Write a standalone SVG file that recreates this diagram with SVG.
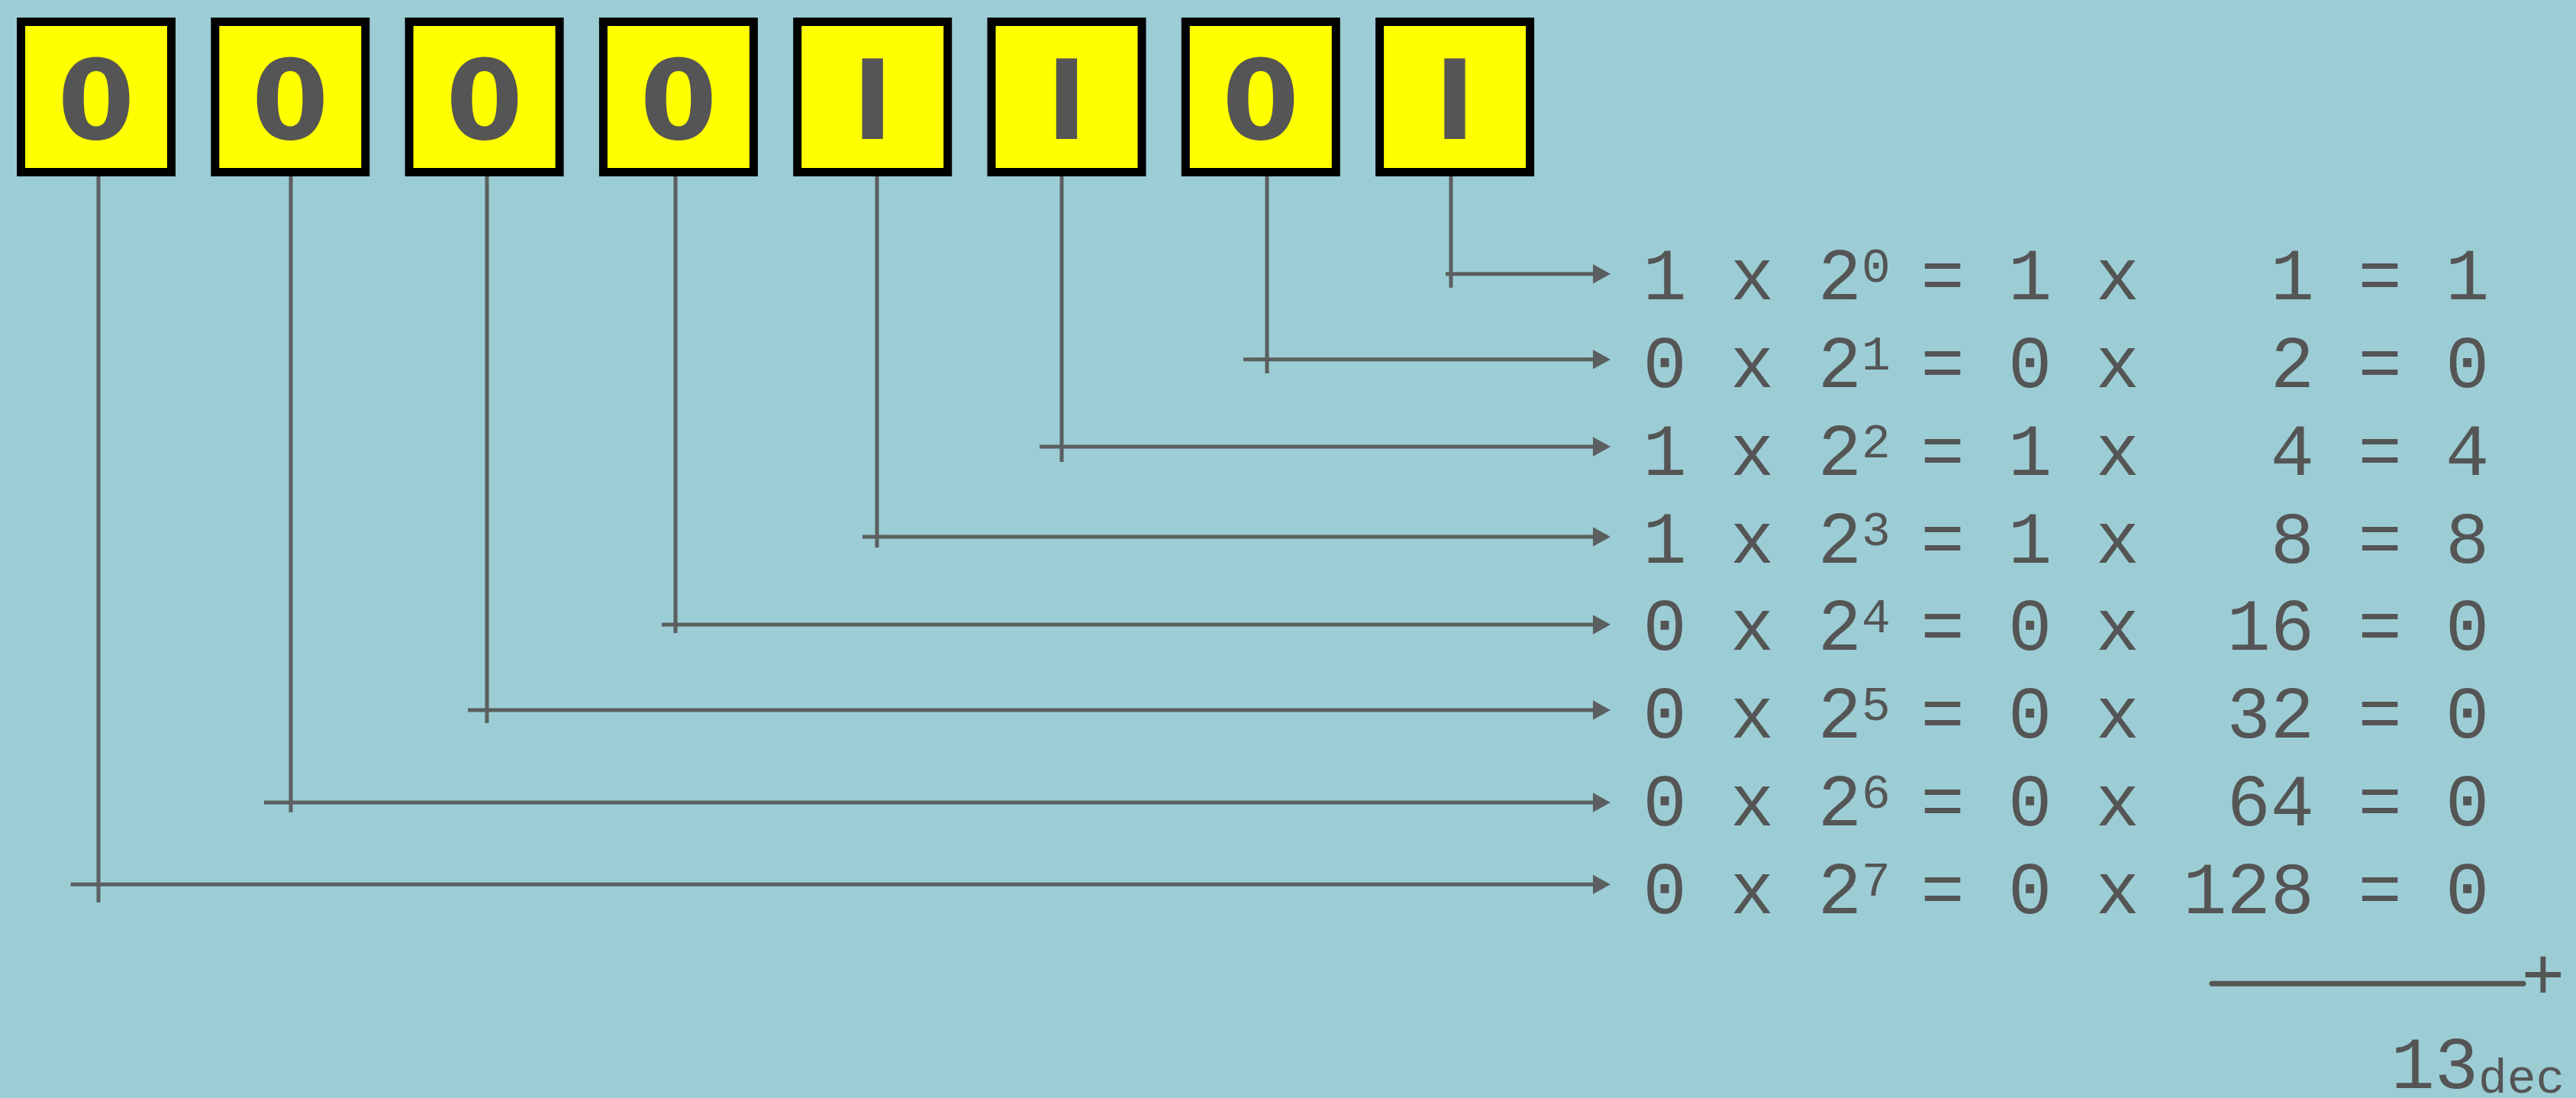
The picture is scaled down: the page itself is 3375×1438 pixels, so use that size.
<svg xmlns="http://www.w3.org/2000/svg" width="3375" height="1438" viewBox="0 0 3375 1438">
<defs>
<style>
.box rect{fill:#ffff00;stroke:#000;stroke-width:11}
.box text{font-family:"DejaVu Sans",sans-serif;font-weight:bold;font-size:145px;fill:#555555;text-anchor:middle}
.conn path{fill:none;stroke:#5b5f5f;stroke-width:5}
.eq{font-family:"Liberation Mono","Courier New",monospace;font-size:95.5px;fill:#555555;white-space:pre}
.sup{font-size:63px}
</style>
<marker id="ah" markerUnits="userSpaceOnUse" markerWidth="24" markerHeight="26" refX="1" refY="12.7" orient="auto">
<path d="M0,0 L23,12.7 L0,25.4 z" fill="#5b5f5f"/>
</marker>
</defs>
<rect x="0" y="0" width="3375" height="1438" fill="#9ccdd5"/>
<g id="connectors" class="conn">
<path d="M1901,228 V376.7 M1894,358.7 H2088" marker-end="url(#ah)"/>
<path d="M1660,228 V489 M1629,470.7 H2088" marker-end="url(#ah)"/>
<path d="M1391,228 V605 M1362,585 H2088" marker-end="url(#ah)"/>
<path d="M1149,228 V717 M1130,703 H2088" marker-end="url(#ah)"/>
<path d="M885,228 V829 M867,818 H2088" marker-end="url(#ah)"/>
<path d="M638,228 V947 M613,930 H2088" marker-end="url(#ah)"/>
<path d="M381,228 V1063.7 M346,1051 H2088" marker-end="url(#ah)"/>
<path d="M129,228 V1181.7 M92.6,1158.3 H2088" marker-end="url(#ah)"/>
</g>
<g id="bit7" class="box"><rect x="27.5" y="28.5" width="197" height="197"/><text x="126" y="182">0</text></g>
<g id="bit6" class="box"><rect x="281.8" y="28.5" width="197" height="197"/><text x="380.3" y="182">0</text></g>
<g id="bit5" class="box"><rect x="536.1" y="28.5" width="197" height="197"/><text x="634.6" y="182">0</text></g>
<g id="bit4" class="box"><rect x="790.4" y="28.5" width="197" height="197"/><text x="888.9" y="182">0</text></g>
<g id="bit3" class="box"><rect x="1044.7" y="28.5" width="197" height="197"/><text x="1143.2" y="182">I</text></g>
<g id="bit2" class="box"><rect x="1299" y="28.5" width="197" height="197"/><text x="1397.5" y="182">I</text></g>
<g id="bit1" class="box"><rect x="1553.3" y="28.5" width="197" height="197"/><text x="1651.8" y="182">0</text></g>
<g id="bit0" class="box"><rect x="1807.6" y="28.5" width="197" height="197"/><text x="1906.1" y="182">I</text></g>
<g id="equations" class="eq">
<text xml:space="preserve" y="392"><tspan x="2152.4">1 x 2</tspan><tspan x="2438.9" dy="-23" class="sup">0</tspan><tspan x="2516.4" dy="23">= 1 x   1 = 1</tspan></text>
<text xml:space="preserve" y="507"><tspan x="2152.4">0 x 2</tspan><tspan x="2438.9" dy="-23" class="sup">1</tspan><tspan x="2516.4" dy="23">= 0 x   2 = 0</tspan></text>
<text xml:space="preserve" y="622"><tspan x="2152.4">1 x 2</tspan><tspan x="2438.9" dy="-23" class="sup">2</tspan><tspan x="2516.4" dy="23">= 1 x   4 = 4</tspan></text>
<text xml:space="preserve" y="737"><tspan x="2152.4">1 x 2</tspan><tspan x="2438.9" dy="-23" class="sup">3</tspan><tspan x="2516.4" dy="23">= 1 x   8 = 8</tspan></text>
<text xml:space="preserve" y="851"><tspan x="2152.4">0 x 2</tspan><tspan x="2438.9" dy="-23" class="sup">4</tspan><tspan x="2516.4" dy="23">= 0 x  16 = 0</tspan></text>
<text xml:space="preserve" y="966"><tspan x="2152.4">0 x 2</tspan><tspan x="2438.9" dy="-23" class="sup">5</tspan><tspan x="2516.4" dy="23">= 0 x  32 = 0</tspan></text>
<text xml:space="preserve" y="1081"><tspan x="2152.4">0 x 2</tspan><tspan x="2438.9" dy="-23" class="sup">6</tspan><tspan x="2516.4" dy="23">= 0 x  64 = 0</tspan></text>
<text xml:space="preserve" y="1196"><tspan x="2152.4">0 x 2</tspan><tspan x="2438.9" dy="-23" class="sup">7</tspan><tspan x="2516.4" dy="23">= 0 x 128 = 0</tspan></text>
</g>
<g id="sum">
<line x1="2898" y1="1288.3" x2="3306" y2="1288.3" stroke="#555555" stroke-width="7" stroke-linecap="round"/>
<text class="eq" x="3332" y="1309" text-anchor="middle">+</text>
<text class="eq" y="1425"><tspan x="3132.4">13</tspan><tspan x="3247" dy="6" class="sup">dec</tspan></text>
</g>
</svg>
